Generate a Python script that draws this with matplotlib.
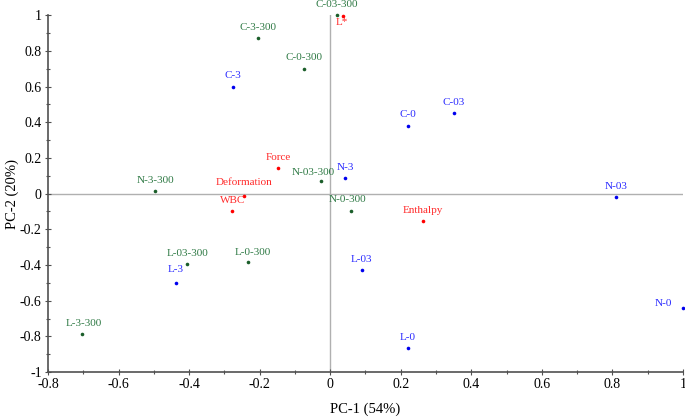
import matplotlib
matplotlib.use('Agg')
import matplotlib.pyplot as plt
from matplotlib.ticker import MultipleLocator, FuncFormatter

plt.rcParams['font.family'] = ['Liberation Serif', 'DejaVu Serif']
plt.rcParams['axes.unicode_minus'] = False

# samples (blue)
blue_names = ['C-3', 'C-0', 'C-03', 'N-3', 'N-03', 'L-03', 'L-0', 'N-0', 'L-3']
blue_x = [-0.275, 0.22, 0.35, 0.043, 0.81, 0.09, 0.22, 1.0, -0.437]
blue_y = [0.60, 0.38, 0.45, 0.087, -0.02, -0.43, -0.865, -0.64, -0.50]

# treated samples (green)
green_names = ['C-3-300', 'C-0-300', 'C-03-300', 'N-03-300', 'N-0-300',
               'N-3-300', 'L-03-300', 'L-0-300', 'L-3-300']
green_x = [-0.204, -0.074, 0.02, -0.025, 0.06, -0.496, -0.405, -0.232, -0.703]
green_y = [0.87, 0.70, 1.0, 0.07, -0.10, 0.014, -0.395, -0.384, -0.787]

# variables (red)
red_names = ['Force', 'Deformation', 'WBC', 'Enthalpy', 'L*']
red_x = [-0.147, -0.245, -0.277, 0.264, 0.035]
red_y = [0.143, -0.015, -0.098, -0.155, 0.995]

# label offsets in pixels (dx, dy, ha); default is centred above the point
label_off = {
    'N-0': (-11, 4, 'right'),
    'N-03-300': (-8, 9, 'center'),
    'N-0-300': (-4, 12, 'center'),
    'L-0-300': (4, 10, 'center'),
    'L-3-300': (2, 11, 'center'),
    'L-3': (0, 13, 'center'),
    'Deformation': (0, 14, 'center'),
    'L*': (-1, -6, 'center'),
}


def fmt(v, pos):
    v = round(v, 1)
    if v == 0:
        return '0'
    return f'{v:g}'


fig = plt.figure(figsize=(6.85, 4.2), dpi=100)
ax = fig.add_axes([0.070, 0.114, 0.927, 0.850])

ax.axhline(0, color='#b0b0b0', lw=1, zorder=1)
ax.axvline(0, color='#b0b0b0', lw=1, zorder=1)

groups = [
    (blue_names, blue_x, blue_y, '#0000ee', '#2a2aff'),
    (green_names, green_x, green_y, '#1b5e2a', '#2f7a45'),
    (red_names, red_x, red_y, '#ff0000', '#ff2a2a'),
]
for names, xs, ys, pc, tc in groups:
    ax.plot(xs, ys, 'o', ms=2.6, mew=0, color=pc, zorder=3, clip_on=False)
    for n, x, y in zip(names, xs, ys):
        dx, dy, ha = label_off.get(n, (0, 11, 'center'))
        ax.annotate(n, (x, y), xytext=(dx, dy), textcoords='offset pixels',
                    ha=ha, va='center', fontsize=8, color=tc,
                    annotation_clip=False)

ax.set_xlim(-0.8, 1.0)
ax.set_ylim(-1.0, 1.0)
ax.xaxis.set_major_locator(MultipleLocator(0.2))
ax.xaxis.set_minor_locator(MultipleLocator(0.1))
ax.yaxis.set_major_locator(MultipleLocator(0.2))
ax.yaxis.set_minor_locator(MultipleLocator(0.1))
ax.xaxis.set_major_formatter(FuncFormatter(fmt))
ax.yaxis.set_major_formatter(FuncFormatter(fmt))

for s in ['top', 'right']:
    ax.spines[s].set_visible(False)
for s in ['left', 'bottom']:
    ax.spines[s].set_color('#505050')
    ax.spines[s].set_linewidth(1.2)
ax.tick_params(which='major', direction='inout', length=5, width=0.8,
               color='#505050', labelsize=10, pad=2)
ax.tick_params(which='minor', direction='inout', length=3, width=0.8,
               color='#505050')

ax.set_xlabel('PC-1 (54%)', fontsize=10.5)
ax.set_ylabel('PC-2 (20%)', fontsize=10.5)
ax.xaxis.set_label_coords(0.5, -0.085)
ax.yaxis.set_label_coords(-0.046, 0.5)

fig.savefig('out.png', dpi=100)
